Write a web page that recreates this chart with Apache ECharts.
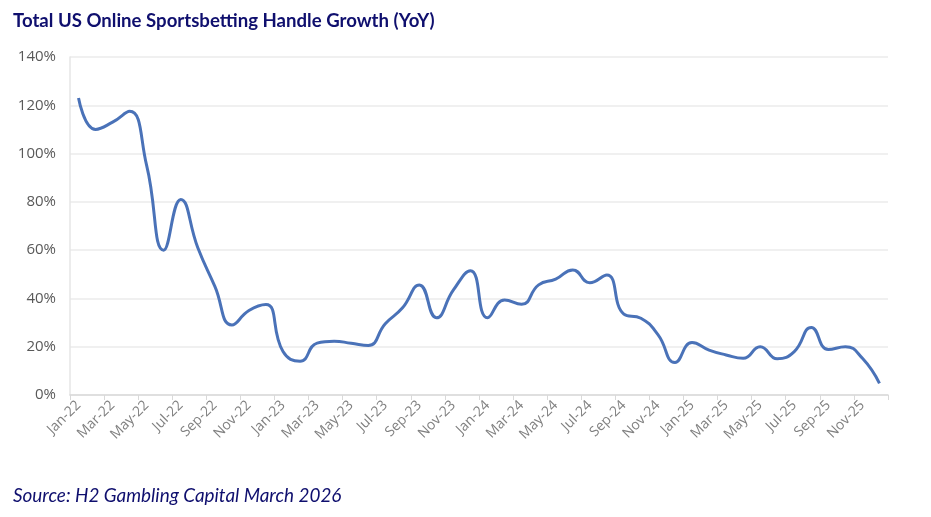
<!DOCTYPE html>
<html>
<head>
<meta charset="utf-8">
<script src="https://cdn.jsdelivr.net/npm/echarts@6/dist/echarts.min.js"></script>
<style>
html,body{margin:0;padding:0;background:#fff;}
#c{width:931px;height:517px;}
</style>
</head>
<body>
<div id="c"></div>
<script>
var titleText = 'Total US Online Sportsbetting Handle Growth (YoY)';
var sourceText = 'Source: H2 Gambling Capital March 2026';
var months = ['Jan-22','Feb-22','Mar-22','Apr-22','May-22','Jun-22','Jul-22','Aug-22','Sep-22','Oct-22','Nov-22','Dec-22',
  'Jan-23','Feb-23','Mar-23','Apr-23','May-23','Jun-23','Jul-23','Aug-23','Sep-23','Oct-23','Nov-23','Dec-23',
  'Jan-24','Feb-24','Mar-24','Apr-24','May-24','Jun-24','Jul-24','Aug-24','Sep-24','Oct-24','Nov-24','Dec-24',
  'Jan-25','Feb-25','Mar-25','Apr-25','May-25','Jun-25','Jul-25','Aug-25','Sep-25','Oct-25','Nov-25','Dec-25'];
var growth = [123, 110, 113, 117.5, 95, 60, 81, 61, 45, 29, 35, 37.5,
  18, 14, 21.5, 22.3, 21.4, 20.5, 29.5, 36, 45.6, 32, 43.5, 51.5,
  32, 39.4, 37.6, 45.6, 48, 51.8, 46.5, 49.7, 33.5, 31.8, 25, 13.5,
  21.7, 18.6, 16.6, 15.2, 20, 15, 18, 28, 18.8, 20, 15.2, 4.8];
var yTicks = {min: 0, max: 140, interval: 20};

var chart = echarts.init(document.getElementById('c'));
chart.setOption({
  animation: false,
  backgroundColor: '#fff',
  title: [{
    text: titleText, left: 8, top: 6,
    textStyle: {fontFamily: 'Lato', fontWeight: 'bold', fontSize: 18.6, color: '#0f0f6e'}
  }, {
    text: sourceText, left: 8, top: 481,
    textStyle: {fontFamily: 'Lato', fontStyle: 'italic', fontWeight: 'normal', fontSize: 18.9, color: '#0f0f6e'}
  }],
  grid: {left: 70, right: 43, top: 57, bottom: 122, containLabel: false},
  xAxis: {
    type: 'category', data: months, boundaryGap: true,
    axisLine: {lineStyle: {color: '#d9d9d9', width: 1.5}},
    axisTick: {show: true, interval: 1, length: 5, lineStyle: {color: '#d9d9d9'}},
    axisLabel: {interval: 1, rotate: 45, color: '#808080', fontFamily: 'Open Sans', fontSize: 14, margin: 8}
  },
  yAxis: {
    type: 'value', min: yTicks.min, max: yTicks.max, interval: yTicks.interval,
    axisLine: {show: true, lineStyle: {color: '#e6e6e6', width: 1.5}},
    axisTick: {show: false},
    splitLine: {lineStyle: {color: '#ebebeb', width: 1.5}},
    axisLabel: {formatter: '{value}%', color: '#595959', fontFamily: 'Open Sans', fontSize: 15, margin: 14}
  },
  series: [{
    type: 'line', data: growth, smooth: 0.5, symbol: 'none',
    lineStyle: {color: '#4a72b8', width: 3}
  }]
});
</script>
</body>
</html>
